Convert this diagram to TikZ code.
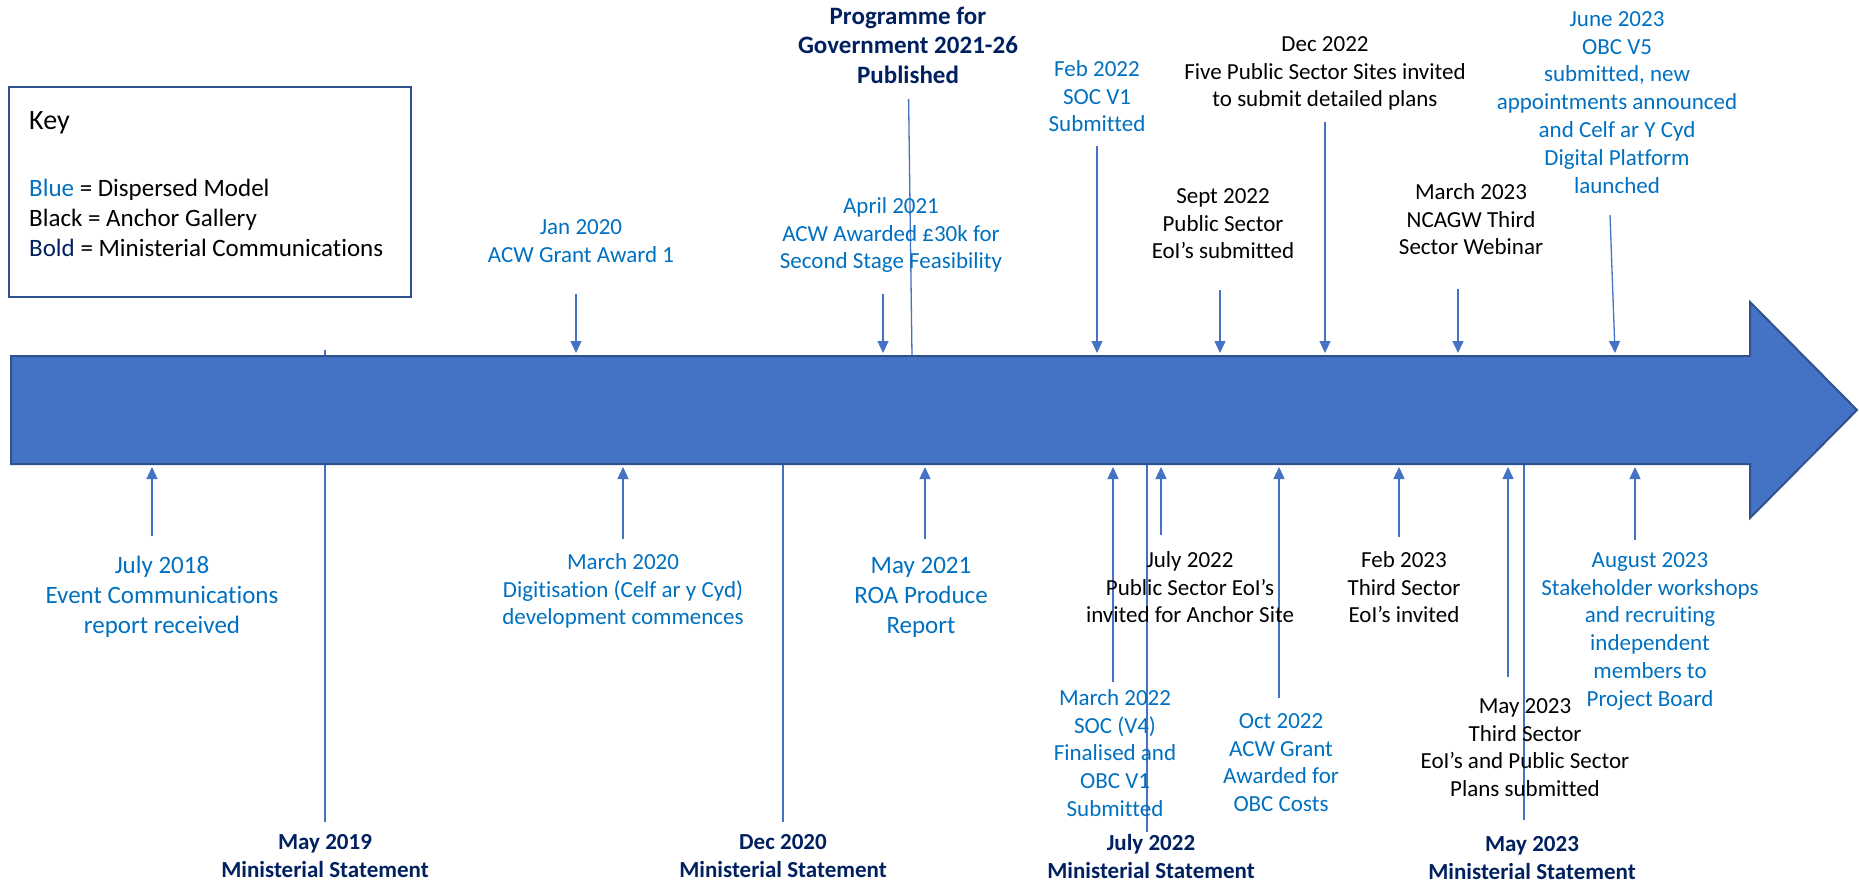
\documentclass[tikz,border=0pt]{standalone}
\usepackage{fontspec}
\setmainfont{Carlito}[Ligatures=NoCommon]
\usetikzlibrary{arrows.meta}
\definecolor{evblue}{HTML}{0070C0}
\definecolor{navy}{HTML}{002060}
\definecolor{linec}{HTML}{4472C4}
\definecolor{bordc}{HTML}{2F528F}
\newcommand{\fl}{\rule{0pt}{20pt}}
\newcommand{\flb}{\rule{0pt}{22pt}}
\begin{document}
\begin{tikzpicture}[x=1pt,y=-1pt,
  lbl/.style={anchor=north, inner sep=0pt, align=center, font=\fontsize{23}{27.8}\selectfont},
  bigf/.style={font=\fontsize{25}{30.3}\selectfont},
  bluet/.style={text=evblue},
  blackt/.style={text=black},
  minist/.style={text=navy, font=\fontsize{23}{27.8}\selectfont\bfseries},
  progf/.style={text=navy, font=\fontsize{25}{29.5}\selectfont\bfseries},
  evline/.style={draw=linec, line width=1.3pt},
  evarrow/.style={evline, -{Triangle[length=12pt,width=11pt]}},
  keyf/.style={inner sep=0pt, font=\fontsize{25}{30.3}\selectfont},
]
\useasboundingbox (0,0) rectangle (1859,883);

% ---- ministerial / programme lines (behind the timeline bar)
\coordinate (progtop) at (908.6,99);
\coordinate (progbot) at (912,357);
\coordinate (may19top) at (325,350);
\coordinate (may19bot) at (325,822);
\coordinate (dec20top) at (783,410);
\coordinate (dec20bot) at (783,822);
\coordinate (jul22mtop) at (1147,410);
\coordinate (jul22mbot) at (1147,832);
\coordinate (may23mtop) at (1524,410);
\coordinate (may23mbot) at (1524,820);
\draw[evline] (progtop) -- (progbot);
\draw[evline] (may19top) -- (may19bot);
\draw[evline] (dec20top) -- (dec20bot);
\draw[evline] (jul22mtop) -- (jul22mbot);
\draw[evline] (may23mtop) -- (may23mbot);

% ---- timeline bar
\draw[fill=linec, draw=bordc, line width=2pt, line join=miter]
  (11,356) -- (1750,356) -- (1750,302) -- (1857,410) -- (1750,518) -- (1750,464) -- (11,464) -- cycle;

% ---- key
\node[draw=bordc, line width=1.5pt, minimum width=402pt, minimum height=210pt, anchor=north west, inner sep=0pt] (keybox) at (8,86) {};
\node[inner sep=0pt, anchor=base west, font=\fontsize{28}{33}\selectfont] (keytitle) at (29,129) {Key};
\node[keyf, anchor=north west, align=left] (keytext) at (29,174)
  {\flb{\color{evblue}Blue} = Dispersed Model\\Black = Anchor Gallery\\{\color{navy}Bold} = Ministerial Communications};

% ---- top events (arrows pointing down)
\coordinate (jan20t) at (576,294);   \coordinate (jan20h) at (576,353);
\coordinate (apr21t) at (883,294);   \coordinate (apr21h) at (883,353);
\coordinate (feb22t) at (1097,146);  \coordinate (feb22h) at (1097,353);
\coordinate (sep22t) at (1220,290);  \coordinate (sep22h) at (1220,353);
\coordinate (dec22t) at (1325,122);  \coordinate (dec22h) at (1325,353);
\coordinate (mar23t) at (1458,289);  \coordinate (mar23h) at (1458,353);
\coordinate (jun23t) at (1610,215);  \coordinate (jun23h) at (1615,353);
\draw[evarrow] (jan20t) -- (jan20h);
\draw[evarrow] (apr21t) -- (apr21h);
\draw[evarrow] (feb22t) -- (feb22h);
\draw[evarrow] (sep22t) -- (sep22h);
\draw[evarrow] (dec22t) -- (dec22h);
\draw[evarrow] (mar23t) -- (mar23h);
\draw[evarrow] (jun23t) -- (jun23h);

% ---- bottom events (arrows pointing up)
\coordinate (jul18t) at (152,536);   \coordinate (jul18h) at (152,467);
\coordinate (mar20t) at (623,539);   \coordinate (mar20h) at (623,467);
\coordinate (may21t) at (925,539);   \coordinate (may21h) at (925,467);
\coordinate (mar22t) at (1113,682);  \coordinate (mar22h) at (1113,467);
\coordinate (jul22at) at (1161,535); \coordinate (jul22ah) at (1161,467);
\coordinate (oct22t) at (1279,698);  \coordinate (oct22h) at (1279,467);
\coordinate (feb23t) at (1399,537);  \coordinate (feb23h) at (1399,467);
\coordinate (may23at) at (1508,677); \coordinate (may23ah) at (1508,467);
\coordinate (aug23t) at (1635,540);  \coordinate (aug23h) at (1635,467);
\draw[evarrow] (jul18t) -- (jul18h);
\draw[evarrow] (mar20t) -- (mar20h);
\draw[evarrow] (may21t) -- (may21h);
\draw[evarrow] (mar22t) -- (mar22h);
\draw[evarrow] (jul22at) -- (jul22ah);
\draw[evarrow] (oct22t) -- (oct22h);
\draw[evarrow] (feb23t) -- (feb23h);
\draw[evarrow] (may23at) -- (may23ah);
\draw[evarrow] (aug23t) -- (aug23h);

% ---- top labels
\node[lbl, progf] (prog) at (908,2) {\flb Programme for\\Government 2021-26\\Published};
\node[lbl, bluet] (jan20) at (581,214) {\fl Jan 2020\\ACW Grant Award 1};
\node[lbl, bluet] (apr21) at (891,193) {\fl April 2021\\ACW Awarded £30k for\\Second Stage Feasibility};
\node[lbl, bluet] (feb22) at (1097,56) {\fl Feb 2022\\SOC V1\\Submitted};
\node[lbl, blackt] (sep22) at (1223,183) {\fl Sept 2022\\Public Sector\\EoI’s submitted};
\node[lbl, blackt] (dec22) at (1325,31) {\fl Dec 2022\\Five Public Sector Sites invited\\to submit detailed plans};
\node[lbl, blackt] (mar23) at (1471,179) {\fl March 2023\\NCAGW Third\\Sector Webinar};
\node[lbl, bluet] (jun23) at (1617,6) {\fl June 2023\\OBC V5\\submitted, new\\appointments announced\\and Celf ar Y Cyd\\Digital Platform\\launched};

% ---- bottom labels
\node[lbl, bigf, bluet] (jul18) at (162,551) {\flb July 2018\\Event Communications\\report received};
\node[lbl, bluet] (mar20) at (623,549) {\fl March 2020\\Digitisation (Celf ar y Cyd)\\development commences};
\node[lbl, bigf, bluet] (may21) at (921,551) {\flb May 2021\\ROA Produce\\Report};
\node[lbl, bluet] (mar22) at (1115,685) {\fl March 2022\\SOC (V4)\\Finalised and\\OBC V1\\Submitted};
\node[lbl, blackt] (jul22a) at (1190,547) {\fl July 2022\\Public Sector EoI’s\\invited for Anchor Site};
\node[lbl, bluet] (oct22) at (1281,708) {\fl Oct 2022\\ACW Grant\\Awarded for\\OBC Costs};
\node[lbl, blackt] (feb23) at (1404,547) {\fl Feb 2023\\Third Sector\\EoI’s invited};
\node[lbl, blackt] (may23a) at (1525,693) {\fl May 2023\\Third Sector\\EoI’s and Public Sector\\Plans submitted};
\node[lbl, bluet] (aug23) at (1650,547) {\fl August 2023\\Stakeholder workshops\\and recruiting\\independent\\members to\\Project Board};

% ---- ministerial statements
\node[lbl, minist] (may19) at (325,829) {\fl May 2019\\Ministerial Statement};
\node[lbl, minist] (dec20) at (783,829) {\fl Dec 2020\\Ministerial Statement};
\node[lbl, minist] (jul22m) at (1151,830) {\fl July 2022\\Ministerial Statement};
\node[lbl, minist] (may23m) at (1532,831) {\fl May 2023\\Ministerial Statement};
\end{tikzpicture}
\end{document}
